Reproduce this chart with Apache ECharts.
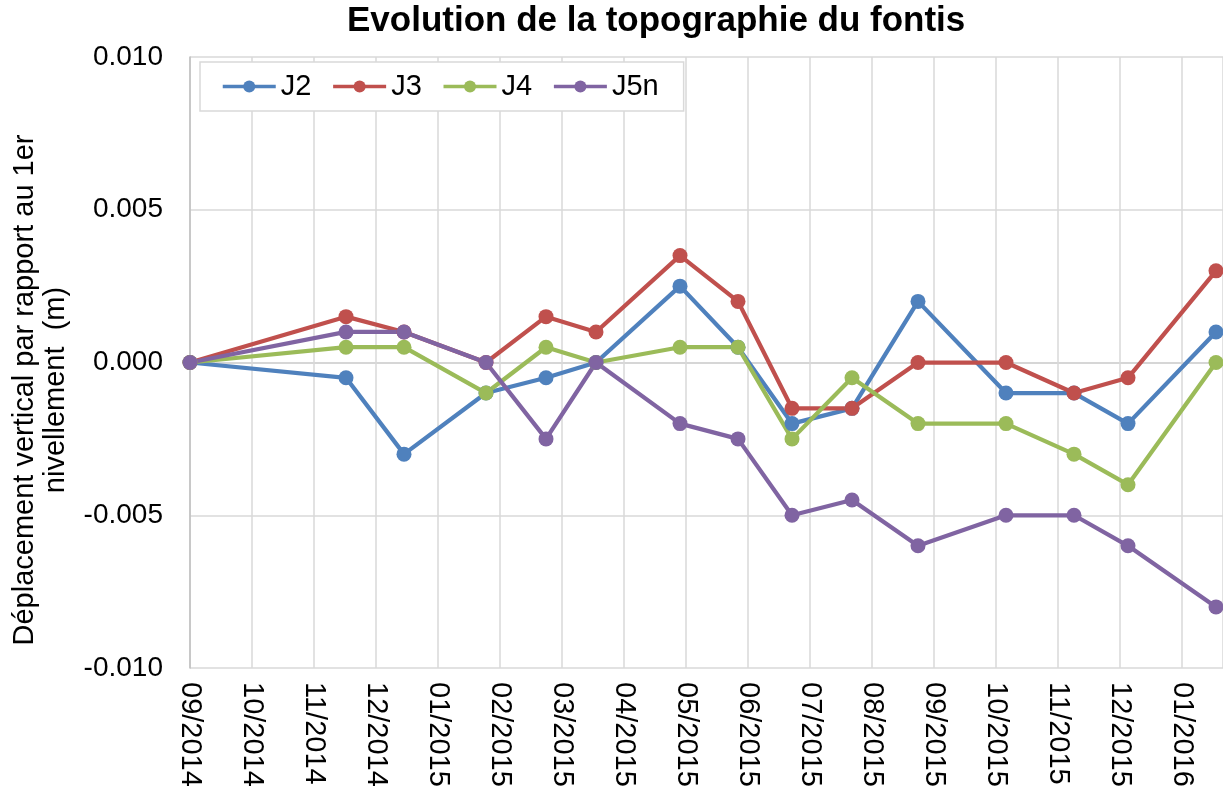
<!DOCTYPE html>
<html>
<head>
<meta charset="utf-8">
<script src="https://cdn.jsdelivr.net/npm/echarts@6/dist/echarts.min.js"></script>
<style>
  html, body { margin: 0; padding: 0; background: #ffffff; }
  #chart { width: 1223px; height: 795px; }
</style>
</head>
<body>
<div id="chart"></div>
<script>
// ---- Data ----
const surveyDates = [
  '2014-09-01', '2014-11-18', '2014-12-17', '2015-01-27', '2015-02-26',
  '2015-03-23', '2015-05-04', '2015-06-02', '2015-06-29', '2015-07-29',
  '2015-08-31', '2015-10-14', '2015-11-17', '2015-12-14', '2016-01-27'
];
const seriesNames = ['J2', 'J3', 'J4', 'J5n'];
const J2  = [0, -0.0005, -0.003, -0.001, -0.0005, 0, 0.0025, 0.0005, -0.002, -0.0015, 0.002, -0.001, -0.001, -0.002, 0.001];
const J3  = [0, 0.0015, 0.001, 0, 0.0015, 0.001, 0.0035, 0.002, -0.0015, -0.0015, 0, 0, -0.001, -0.0005, 0.003];
const J4  = [0, 0.0005, 0.0005, -0.001, 0.0005, 0, 0.0005, 0.0005, -0.0025, -0.0005, -0.002, -0.002, -0.003, -0.004, 0];
const J5n = [0, 0.001, 0.001, 0, -0.0025, 0, -0.002, -0.0025, -0.005, -0.0045, -0.006, -0.005, -0.005, -0.006, -0.008];
const seriesValues = [J2, J3, J4, J5n];
const seriesColors = ['#4f81bd', '#c0504d', '#9bbb59', '#8064a2'];
const yTicks = { min: -0.010, max: 0.010, step: 0.005 };
const titleText = 'Evolution de la topographie du fontis';
const yTitleText = 'Déplacement vertical par rapport au 1er\nnivellement  (m)';

// ---- Helpers ----
const origin = Date.UTC(2014, 8, 1);
function dayOffset(s) {
  const p = s.split('-').map(Number);
  return (Date.UTC(p[0], p[1] - 1, p[2]) - origin) / 86400000;
}
function fmtMonth(days) {
  const d = new Date(origin + days * 86400000);
  const m = d.getUTCMonth() + 1;
  return (m < 10 ? '0' : '') + m + '/' + d.getUTCFullYear();
}
const xDays = surveyDates.map(dayOffset);

const FONT = '"Liberation Sans", Arial, sans-serif';

const chart = echarts.init(document.getElementById('chart'), null, { renderer: 'canvas' });

const series = seriesNames.map((name, i) => ({
  name: name,
  type: 'line',
  data: xDays.map((x, j) => [x, seriesValues[i][j]]),
  symbol: 'circle',
  symbolSize: 15,
  showSymbol: true,
  color: seriesColors[i],
  lineStyle: { width: 4.25, color: seriesColors[i] },
  itemStyle: { color: seriesColors[i] },
  emphasis: { disabled: true },
  animation: false,
  clip: false
}));

chart.setOption({
  backgroundColor: '#ffffff',
  animation: false,
  title: {
    text: titleText,
    left: 347,
    top: 4,
    padding: 0,
    textStyle: { fontFamily: FONT, fontSize: 35, fontWeight: 'bold', color: '#000000' }
  },
  legend: {
    data: seriesNames,
    left: 200,
    top: 62,
    padding: [10, 25, 10, 21],
    itemGap: 20,
    itemWidth: 53,
    itemHeight: 15,
    borderColor: '#d9d9d9',
    borderWidth: 1.5,
    backgroundColor: '#ffffff',
    lineStyle: { width: 3.5 },
    itemStyle: { borderWidth: 0 },
    textStyle: { fontFamily: FONT, fontSize: 29, color: '#000000' }
  },
  grid: { left: 190, top: 57, right: 0, bottom: 127, containLabel: false },
  xAxis: {
    type: 'value',
    min: 0,
    max: 516.5,
    interval: 31,
    axisLine: { show: true, lineStyle: { color: '#d9d9d9', width: 1.5 } },
    axisTick: { show: false },
    splitLine: { show: true, lineStyle: { color: '#d9d9d9', width: 1.5 } },
    axisLabel: {
      rotate: -90,
      margin: 14,
      showMaxLabel: false,
      fontFamily: FONT,
      fontSize: 29,
      color: '#000000',
      formatter: v => fmtMonth(v)
    }
  },
  yAxis: {
    type: 'value',
    min: yTicks.min,
    max: yTicks.max,
    interval: yTicks.step,
    axisLine: { show: true, lineStyle: { color: '#bfbfbf', width: 1.5 } },
    axisTick: { show: false },
    splitLine: {
      show: true,
      lineStyle: { color: ['#d9d9d9', '#d9d9d9', '#bfbfbf', '#d9d9d9', '#d9d9d9'], width: 1.5 }
    },
    axisLabel: {
      margin: 27,
      fontFamily: FONT,
      fontSize: 28,
      color: '#000000',
      formatter: v => v.toFixed(3)
    }
  },
  graphic: [{
    type: 'text',
    x: 40,
    y: 390,
    rotation: Math.PI / 2,
    style: {
      text: yTitleText,
      fontFamily: FONT,
      fontSize: 29,
      lineHeight: 31,
      fill: '#000000',
      align: 'center',
      verticalAlign: 'middle'
    }
  }],
  series: series
});
</script>
</body>
</html>
